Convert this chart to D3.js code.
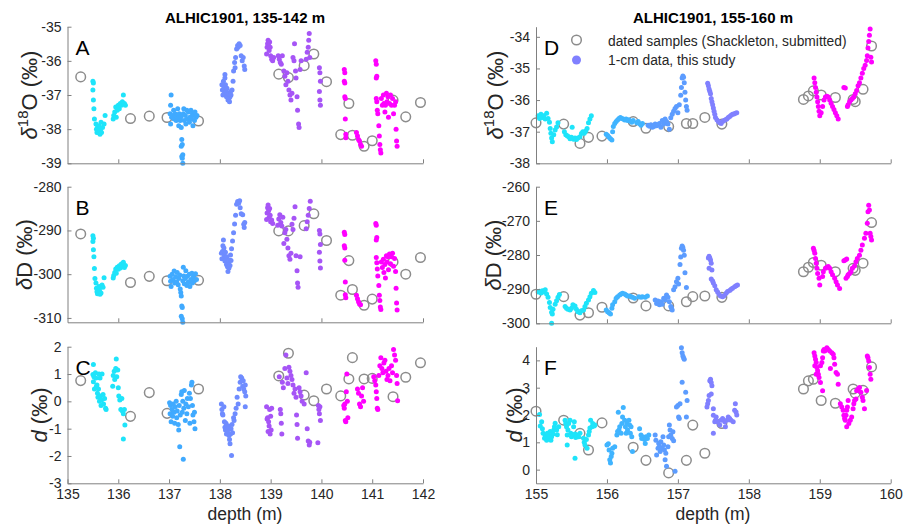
<!DOCTYPE html>
<html><head><meta charset="utf-8">
<script src="https://cdn.jsdelivr.net/npm/d3@7"></script>
<style>
body{margin:0;background:#fff;}
text{font-family:"Liberation Sans",Arial,sans-serif;}
</style></head>
<body><svg id="c" width="905" height="531"></svg>
<script>
// ---------- colours of the 1-cm segments ----------
const segColorsL = ["#1ee4fa", "#40aaff", "#6f8cff", "#a655f6", "#ff00ff"];
const segColorsR = ["#1ee4fa", "#40b4ff", "#5c9cff", "#8080ff", "#ff00ff"];

// ---------- tick values ----------
const xTicksTopL = [136, 138, 140, 142];
const xTicksBotL = [135, 136, 137, 138, 139, 140, 141, 142];
const xTicksR = [155, 156, 157, 158, 159, 160];
const yTicksA = [-39, -38, -37, -36, -35];
const yTicksB = [-310, -300, -290, -280];
const yTicksC = [-3, -2, -1, 0, 1, 2];
const yTicksD = [-38, -37, -36, -35, -34];
const yTicksE = [-300, -290, -280, -270, -260];
const yTicksF = [0, 1, 2, 3, 4];

// ---------- dated samples (Shackleton, submitted) ----------
const datedDepthL = [135.26,136.24,136.61,136.96,137.58,139.16,139.35,139.66,139.85,140.10,140.38,140.54,140.61,140.84,141.00,141.41,141.66,141.95];
const datedO18L = [-36.47,-37.69,-37.62,-37.66,-37.76,-36.39,-36.49,-36.14,-35.80,-36.61,-38.16,-37.25,-38.18,-38.50,-38.34,-37.15,-37.64,-37.22];
const datedDL = [-290.8,-301.9,-300.5,-301.5,-301.4,-290.1,-290.1,-288.9,-286.2,-292.3,-304.8,-296.9,-303.5,-307.1,-305.7,-297.2,-300.0,-296.2];
const datedDxsL = [0.76,-0.55,0.32,-0.44,0.45,0.93,1.76,0.23,0.02,0.45,0.20,0.82,1.60,0.82,0.84,0.17,0.88,1.41];

const datedDepthR = [155.0,155.39,155.62,155.74,155.93,156.37,156.55,156.87,157.12,157.21,157.38,157.62,158.77,158.84,158.91,159.02,159.22,159.47,159.50,159.61,159.73];
const datedO18R = [-36.72,-36.76,-37.37,-37.18,-37.14,-36.68,-36.89,-36.84,-36.74,-36.74,-36.55,-36.76,-35.98,-35.87,-35.71,-35.84,-35.92,-35.98,-36.05,-35.66,-34.29];
const datedDR = [-291.5,-292.2,-297.6,-296.9,-295.3,-292.6,-294.9,-294.9,-293.7,-292.2,-292.0,-292.4,-284.9,-283.6,-282.2,-283.0,-284.9,-283.9,-284.5,-282.4,-270.5];
const datedDxsR = [2.14,1.81,1.33,0.72,1.71,0.82,0.34,-0.12,0.34,1.63,0.60,1.69,2.95,3.25,3.31,2.53,2.43,2.95,2.80,2.90,3.76];

// ---------- 1-cm data, 135-142 m : d18O ----------
const o18L1 = [[135.50,-36.6],[135.51,-36.65],[135.50,-36.85],[135.51,-37.15],[135.52,-37.4],[135.53,-37.7],[135.56,-37.85],[135.57,-38.0],[135.58,-38.1],[135.59,-37.95],[135.60,-38.05],[135.61,-38.1],[135.62,-37.9],[135.63,-38.0],[135.64,-38.15],[135.65,-38.05],[135.66,-37.8],[135.67,-38.1],[135.69,-37.95],[135.72,-37.85],[135.74,-37.6],[135.90,-37.7],[135.91,-37.6],[135.93,-37.5],[135.95,-37.35],[135.96,-37.65],[135.98,-37.45],[136.00,-37.3],[136.02,-37.4],[136.04,-37.25],[136.06,-37.3],[136.08,-37.2],[136.10,-37.0],[136.12,-37.25],[136.14,-37.3]];
const o18L2 = [[137.04,-37.0],[137.03,-37.3],[137.02,-37.55],[137.05,-37.65],[137.03,-37.85],[137.07,-37.6],[137.09,-37.45],[137.10,-37.7],[137.12,-37.55],[137.14,-37.75],[137.15,-37.6],[137.17,-37.4],[137.18,-37.7],[137.19,-37.9],[137.20,-37.55],[137.22,-37.75],[137.23,-37.65],[137.24,-37.95],[137.25,-38.3],[137.26,-38.45],[137.24,-38.5],[137.27,-38.75],[137.25,-38.8],[137.26,-38.85],[137.27,-39.0],[137.28,-37.55],[137.29,-37.4],[137.30,-37.75],[137.32,-37.6],[137.33,-37.85],[137.35,-37.45],[137.36,-37.7],[137.38,-37.5],[137.40,-37.8],[137.41,-37.65],[137.43,-37.45],[137.44,-37.7],[137.46,-37.55],[137.47,-37.9],[137.49,-37.6],[137.50,-37.75],[137.51,-37.5],[137.53,-37.65],[137.55,-37.6]];
const o18L3 = [[138.04,-36.7],[138.05,-36.85],[138.06,-37.0],[138.07,-36.6],[138.08,-36.8],[138.09,-36.95],[138.10,-36.4],[138.10,-36.5],[138.11,-36.7],[138.12,-36.9],[138.13,-37.05],[138.14,-36.8],[138.15,-37.0],[138.16,-37.15],[138.17,-36.95],[138.18,-37.1],[138.19,-37.2],[138.20,-37.05],[138.21,-36.9],[138.22,-37.0],[138.24,-36.85],[138.26,-36.6],[138.27,-36.3],[138.29,-36.05],[138.30,-36.2],[138.31,-35.9],[138.33,-35.65],[138.35,-35.55],[138.36,-35.6],[138.38,-35.5],[138.40,-35.55],[138.42,-35.85],[138.44,-36.0],[138.46,-35.9],[138.48,-36.15],[138.49,-36.25]];
const o18L4 = [[138.92,-35.8],[138.93,-35.6],[138.94,-35.5],[138.95,-35.4],[138.96,-35.55],[138.97,-35.7],[138.98,-35.45],[138.99,-35.6],[139.00,-35.85],[139.02,-35.95],[139.04,-36.0],[139.06,-35.9],[139.15,-35.85],[139.17,-35.95],[139.19,-36.05],[139.21,-36.1],[139.23,-35.85],[139.26,-36.3],[139.28,-36.45],[139.30,-36.7],[139.32,-36.35],[139.34,-36.6],[139.36,-36.85],[139.38,-37.0],[139.40,-37.15],[139.42,-36.95],[139.44,-35.9],[139.46,-36.0],[139.47,-35.5],[139.49,-36.3],[139.50,-36.5],[139.52,-37.05],[139.53,-37.45],[139.55,-37.85],[139.56,-37.95],[139.58,-36.25],[139.60,-36.0],[139.70,-35.95],[139.72,-35.75],[139.74,-35.6],[139.75,-35.4],[139.76,-35.2],[139.77,-35.9],[139.96,-36.2],[139.97,-36.35],[139.98,-36.6],[139.96,-36.9],[139.97,-37.15],[139.98,-37.3]];
const o18L5 = [[140.45,-36.25],[140.46,-36.35],[140.45,-36.6],[140.46,-36.65],[140.46,-37.05],[140.47,-37.1],[140.47,-37.7],[140.48,-38.15],[140.48,-38.25],[140.69,-38.1],[140.71,-38.2],[140.73,-38.3],[140.75,-38.35],[140.77,-38.45],[140.79,-38.5],[141.07,-36.0],[141.08,-36.1],[141.09,-36.45],[141.08,-36.5],[141.08,-37.1],[141.09,-37.2],[141.10,-37.45],[141.11,-37.55],[141.13,-37.9],[141.14,-38.2],[141.15,-38.45],[141.16,-38.6],[141.17,-38.7],[141.18,-37.1],[141.20,-37.3],[141.22,-37.0],[141.23,-37.25],[141.25,-37.5],[141.26,-37.3],[141.28,-36.95],[141.29,-37.2],[141.31,-37.05],[141.32,-37.65],[141.34,-37.25],[141.36,-37.0],[141.38,-37.3],[141.40,-37.1],[141.42,-37.55],[141.44,-37.3],[141.46,-37.2],[141.47,-38.0],[141.48,-38.35],[141.49,-38.5]];

// ---------- 1-cm data, 135-142 m : dD ----------
const dDL1 = [[135.50,-291.2],[135.51,-291.8],[135.50,-292.5],[135.51,-294.4],[135.52,-296.0],[135.53,-298.7],[135.54,-301.0],[135.56,-302.0],[135.57,-303.2],[135.58,-304.0],[135.59,-304.5],[135.60,-303.5],[135.61,-304.2],[135.62,-302.8],[135.63,-303.8],[135.64,-304.6],[135.65,-303.0],[135.66,-304.3],[135.68,-302.5],[135.70,-303.0],[135.72,-300.8],[135.90,-300.9],[135.91,-300.3],[135.93,-299.6],[135.95,-298.8],[135.96,-299.8],[135.98,-298.4],[136.00,-298.9],[136.02,-298.1],[136.04,-298.6],[136.06,-297.7],[136.08,-298.2],[136.10,-297.3],[136.12,-298.5],[136.14,-298.0]];
const dDL2 = [[137.02,-300.5],[137.03,-301.6],[137.04,-302.8],[137.06,-300.0],[137.08,-301.2],[137.10,-299.3],[137.11,-302.0],[137.13,-300.6],[137.15,-301.8],[137.16,-299.6],[137.18,-302.4],[137.19,-301.0],[137.21,-300.2],[137.22,-303.4],[137.23,-304.2],[137.24,-305.0],[137.25,-307.3],[137.26,-307.6],[137.24,-309.6],[137.26,-310.2],[137.27,-311.0],[137.27,-301.5],[137.28,-298.4],[137.29,-300.4],[137.30,-302.2],[137.32,-301.0],[137.33,-299.2],[137.35,-302.6],[137.36,-300.5],[137.38,-301.8],[137.40,-300.0],[137.41,-302.8],[137.43,-301.2],[137.45,-299.8],[137.46,-302.0],[137.48,-300.6],[137.50,-301.5],[137.52,-299.9],[137.54,-301.2]];
const dDL3 = [[138.03,-295.2],[138.04,-296.5],[138.05,-294.8],[138.06,-293.5],[138.07,-292.2],[138.08,-294.0],[138.09,-295.8],[138.10,-297.0],[138.11,-295.0],[138.12,-296.3],[138.13,-297.8],[138.14,-296.0],[138.15,-298.3],[138.16,-299.4],[138.17,-297.5],[138.18,-298.6],[138.19,-296.8],[138.20,-298.0],[138.21,-295.6],[138.22,-296.9],[138.23,-294.2],[138.25,-292.4],[138.27,-290.5],[138.29,-288.5],[138.31,-286.5],[138.33,-284.0],[138.35,-283.4],[138.37,-283.8],[138.39,-283.2],[138.40,-284.8],[138.42,-286.2],[138.45,-286.4],[138.47,-288.6],[138.48,-289.3],[138.49,-288.2]];
const dDL4 = [[138.92,-287.5],[138.93,-286.0],[138.94,-284.8],[138.95,-284.2],[138.96,-285.5],[138.97,-287.0],[138.98,-285.0],[138.99,-286.5],[139.00,-288.0],[139.02,-287.6],[139.04,-288.4],[139.14,-288.8],[139.16,-287.4],[139.18,-286.4],[139.20,-288.2],[139.22,-289.0],[139.24,-287.0],[139.26,-293.0],[139.28,-290.5],[139.30,-289.8],[139.32,-292.0],[139.34,-294.0],[139.36,-295.8],[139.38,-296.6],[139.40,-295.2],[139.42,-288.6],[139.44,-289.8],[139.46,-287.2],[139.48,-284.6],[139.50,-295.8],[139.52,-299.2],[139.53,-302.0],[139.54,-303.0],[139.58,-296.0],[139.70,-289.6],[139.72,-288.0],[139.74,-286.5],[139.76,-285.0],[139.78,-283.3],[139.96,-290.0],[139.97,-290.8],[139.98,-293.2],[139.96,-295.0],[139.97,-297.0],[139.98,-298.6]];
const dDL5 = [[140.45,-290.4],[140.46,-290.9],[140.45,-293.5],[140.46,-294.0],[140.46,-296.8],[140.47,-301.8],[140.47,-304.7],[140.48,-305.4],[140.69,-304.8],[140.71,-305.6],[140.73,-306.3],[140.75,-306.8],[140.77,-307.0],[141.07,-288.4],[141.08,-288.8],[141.09,-291.6],[141.08,-292.2],[141.08,-296.2],[141.09,-297.4],[141.10,-298.8],[141.11,-300.4],[141.13,-302.6],[141.14,-304.8],[141.15,-306.0],[141.16,-307.5],[141.17,-308.1],[141.18,-297.2],[141.20,-298.5],[141.22,-296.6],[141.23,-299.6],[141.25,-297.8],[141.26,-300.9],[141.28,-295.8],[141.29,-297.2],[141.31,-296.0],[141.32,-299.0],[141.34,-295.4],[141.36,-297.6],[141.38,-296.0],[141.40,-295.2],[141.42,-298.2],[141.44,-296.4],[141.46,-299.4],[141.47,-303.2],[141.48,-306.6],[141.49,-308.2]];

// ---------- 1-cm data, 135-142 m : deuterium excess ----------
const dxsL1 = [[135.51,1.35],[135.50,0.98],[135.52,0.9],[135.51,0.72],[135.53,0.45],[135.55,1.05],[135.56,0.85],[135.57,0.55],[135.58,0.6],[135.59,0.3],[135.60,0.15],[135.61,0.45],[135.62,1.0],[135.63,0.0],[135.64,0.85],[135.65,0.2],[135.66,-0.15],[135.67,0.05],[135.68,1.0],[135.70,0.25],[135.71,-0.1],[135.73,0.1],[135.75,-0.25],[135.76,-0.3],[135.89,0.55],[135.90,0.95],[135.92,1.1],[135.93,0.8],[135.95,1.2],[135.96,1.55],[135.97,0.9],[135.99,1.15],[136.00,0.5],[136.01,0.2],[136.03,0.05],[136.05,-0.3],[136.07,0.1],[136.08,-0.35],[136.10,-0.45],[136.12,-0.3],[136.13,-0.87],[136.10,-1.38]];
const dxsL2 = [[137.01,-0.05],[137.03,-0.15],[137.02,-0.45],[137.04,-0.75],[137.06,-0.3],[137.07,-0.55],[137.08,-0.1],[137.10,-0.4],[137.11,-0.8],[137.12,-0.2],[137.14,0.0],[137.15,-0.6],[137.16,-0.35],[137.18,-0.85],[137.19,-1.05],[137.20,-0.15],[137.21,-1.66],[137.22,-0.5],[137.24,0.25],[137.25,0.35],[137.26,-0.4],[137.27,0.0],[137.28,-2.12],[137.29,-0.25],[137.30,0.4],[137.32,-0.7],[137.33,-0.1],[137.35,-0.45],[137.36,0.1],[137.38,-0.2],[137.40,0.3],[137.41,-0.8],[137.42,0.1],[137.44,0.6],[137.45,0.7],[137.46,-0.15],[137.47,-0.5],[137.49,-0.75],[137.51,-1.0],[137.50,-0.4]];
const dxsL3 = [[138.03,-0.1],[138.04,-0.3],[138.05,-0.45],[138.06,-0.5],[138.08,-0.2],[138.09,-0.75],[138.10,-0.95],[138.11,-1.05],[138.12,-0.8],[138.13,-1.2],[138.14,-0.95],[138.15,-1.1],[138.16,-1.0],[138.17,-0.9],[138.18,-1.25],[138.19,-1.4],[138.20,-1.55],[138.21,-1.2],[138.22,-1.0],[138.23,-1.98],[138.24,-0.85],[138.25,-1.15],[138.27,-0.6],[138.28,-0.7],[138.30,-0.45],[138.32,-0.25],[138.34,0.15],[138.36,-0.1],[138.38,0.45],[138.40,0.7],[138.41,0.9],[138.43,0.85],[138.45,0.55],[138.46,0.75],[138.47,0.45],[138.49,0.35],[138.50,0.6],[138.51,0.2],[138.50,-0.2]];
const dxsL4 = [[138.92,-0.2],[138.93,-0.65],[138.94,-0.6],[138.95,-1.1],[138.96,-0.75],[138.97,-0.9],[138.98,-0.3],[138.99,-1.2],[139.00,-0.55],[139.01,-1.05],[139.02,-0.25],[139.17,0.9],[139.19,-0.3],[139.20,-0.45],[139.21,-0.8],[139.22,-1.2],[139.23,0.7],[139.25,0.5],[139.28,1.2],[139.30,1.7],[139.32,0.85],[139.34,0.65],[139.36,1.25],[139.38,1.1],[139.40,0.95],[139.42,0.8],[139.44,0.6],[139.46,0.3],[139.48,0.45],[139.50,0.15],[139.51,-0.5],[139.52,-0.85],[139.53,-1.35],[139.56,0.5],[139.58,0.35],[139.60,0.2],[139.62,0.0],[139.66,-0.1],[139.70,1.05],[139.72,-1.0],[139.74,-1.45],[139.76,-1.6],[139.77,-1.5],[139.94,-0.15],[139.95,-0.3],[139.96,-0.45],[139.97,-0.2],[139.98,-0.7],[139.93,-1.52]];
const dxsL5 = [[140.44,-0.15],[140.45,-0.25],[140.46,-0.1],[140.47,-0.7],[140.48,-0.75],[140.49,0.35],[140.50,1.0],[140.51,0.0],[140.52,-0.6],[140.71,0.45],[140.73,0.3],[140.75,-0.1],[140.77,-0.2],[140.79,0.2],[140.81,0.5],[140.83,0.0],[141.03,0.9],[141.05,0.75],[141.07,0.6],[141.08,0.35],[141.09,0.1],[141.10,-0.25],[141.11,-0.3],[141.13,0.95],[141.15,1.3],[141.17,1.6],[141.19,1.2],[141.21,1.05],[141.23,1.4],[141.25,1.5],[141.27,1.1],[141.29,0.8],[141.31,0.95],[141.33,1.2],[141.35,0.75],[141.38,1.3],[141.40,1.05],[141.42,1.9],[141.44,1.7],[141.46,1.5],[141.48,0.95],[141.49,0.65],[141.50,0.02]];

// ---------- 1-cm data, 155-160 m : d18O ----------
const o18R1 = [[155.03,-36.5],[155.05,-36.58],[155.07,-36.45],[155.09,-36.55],[155.11,-36.5],[155.13,-36.6],[155.15,-36.42],[155.17,-36.58],[155.19,-36.7],[155.20,-36.9],[155.21,-37.05],[155.22,-37.2],[155.23,-37.32],[155.25,-37.1],[155.27,-36.95],[155.29,-36.85],[155.31,-36.72],[155.40,-37.0],[155.42,-37.1],[155.44,-37.13],[155.46,-37.16],[155.48,-37.22],[155.50,-37.18],[155.51,-36.86],[155.53,-37.24],[155.55,-37.2],[155.57,-37.25],[155.59,-37.2],[155.62,-37.16],[155.64,-37.06],[155.66,-37.0],[155.68,-37.05],[155.70,-36.98],[155.72,-36.9],[155.74,-36.72],[155.76,-36.6],[155.78,-36.5]];
const o18R2 = [[155.99,-37.08],[156.01,-37.12],[156.03,-37.18],[156.05,-37.22],[156.07,-37.26],[156.08,-37.0],[156.09,-36.84],[156.11,-36.74],[156.13,-36.68],[156.15,-36.63],[156.17,-36.58],[156.19,-36.55],[156.21,-36.58],[156.23,-36.6],[156.25,-36.63],[156.27,-36.6],[156.29,-36.65],[156.31,-36.62],[156.33,-36.67],[156.35,-36.7],[156.37,-36.65],[156.42,-36.72],[156.44,-36.68],[156.46,-36.75],[156.48,-36.8],[156.50,-36.74]];
const o18R3 = [[156.58,-36.8],[156.60,-36.83],[156.62,-36.78],[156.64,-36.86],[156.66,-36.84],[156.68,-36.76],[156.70,-36.81],[156.72,-36.78],[156.74,-36.74],[156.76,-36.86],[156.78,-36.65],[156.80,-36.76],[156.82,-36.6],[156.84,-36.68],[156.86,-36.76],[156.88,-36.92],[156.90,-36.56],[156.92,-36.45],[156.94,-36.35],[156.96,-36.27],[156.98,-36.2],[157.00,-36.4],[157.02,-36.15],[157.04,-35.85],[157.05,-35.6],[157.06,-35.3],[157.07,-35.24],[157.08,-35.28],[157.09,-35.45],[157.10,-35.75],[157.11,-36.0],[157.12,-36.2],[157.13,-36.32]];
const o18R4 = [[157.42,-35.47],[157.43,-35.55],[157.44,-35.65],[157.45,-35.72],[157.46,-35.8],[157.47,-35.95],[157.48,-36.05],[157.49,-36.15],[157.50,-36.25],[157.51,-36.35],[157.52,-36.45],[157.53,-36.55],[157.55,-36.62],[157.57,-36.68],[157.59,-36.72],[157.61,-36.74],[157.63,-36.68],[157.65,-36.65],[157.67,-36.62],[157.69,-36.6],[157.71,-36.55],[157.73,-36.52],[157.75,-36.48],[157.77,-36.45],[157.79,-36.44],[157.81,-36.42],[157.83,-36.4]];
const o18R5 = [[158.92,-35.3],[158.93,-35.45],[158.94,-35.6],[158.95,-35.75],[158.96,-35.9],[158.97,-36.05],[158.98,-36.2],[158.99,-36.35],[159.00,-36.5],[159.02,-36.4],[159.04,-36.2],[159.06,-36.0],[159.08,-35.9],[159.10,-35.88],[159.12,-35.9],[159.14,-36.0],[159.16,-36.1],[159.18,-36.2],[159.20,-36.3],[159.22,-36.4],[159.24,-36.5],[159.26,-36.6],[159.34,-35.6],[159.36,-35.62],[159.39,-36.2],[159.40,-36.15],[159.42,-36.05],[159.44,-36.0],[159.46,-35.95],[159.48,-35.9],[159.50,-35.8],[159.52,-35.7],[159.54,-35.55],[159.56,-35.45],[159.58,-35.3],[159.60,-35.15],[159.62,-35.0],[159.64,-34.9],[159.66,-34.75],[159.67,-34.6],[159.68,-34.35],[159.69,-34.15],[159.70,-33.95],[159.71,-33.75],[159.72,-34.65],[159.73,-34.8]];

// ---------- 1-cm data, 155-160 m : dD ----------
const dDR1 = [[155.03,-290.8],[155.05,-290.6],[155.07,-291.1],[155.09,-290.5],[155.11,-290.8],[155.13,-290.2],[155.15,-291.4],[155.17,-292.4],[155.19,-293.9],[155.20,-295.4],[155.22,-296.8],[155.23,-297.3],[155.22,-300.0],[155.24,-295.9],[155.27,-294.4],[155.29,-293.4],[155.31,-292.4],[155.33,-291.6],[155.41,-295.1],[155.43,-295.6],[155.45,-295.9],[155.48,-296.1],[155.50,-295.6],[155.52,-294.6],[155.55,-294.9],[155.57,-295.9],[155.59,-296.6],[155.62,-296.9],[155.64,-296.3],[155.67,-296.1],[155.69,-295.1],[155.71,-294.1],[155.74,-293.2],[155.76,-292.2],[155.78,-291.2],[155.81,-290.4],[155.83,-291.0]];
const dDR2 = [[155.99,-296.1],[156.01,-296.6],[156.03,-296.9],[156.05,-297.3],[156.07,-295.6],[156.08,-294.6],[156.11,-293.7],[156.13,-292.7],[156.15,-292.2],[156.18,-291.7],[156.20,-291.4],[156.22,-291.2],[156.25,-291.4],[156.27,-291.7],[156.29,-292.0],[156.32,-292.0],[156.34,-292.2],[156.36,-292.4],[156.39,-292.7],[156.45,-292.2],[156.48,-292.4],[156.50,-292.2],[156.54,-292.4],[156.57,-292.0]];
const dDR3 = [[156.68,-293.2],[156.70,-294.2],[156.72,-293.5],[156.74,-294.6],[156.76,-293.7],[156.78,-294.4],[156.80,-292.7],[156.82,-293.2],[156.84,-291.7],[156.86,-292.4],[156.88,-293.7],[156.90,-295.1],[156.91,-295.5],[156.92,-296.1],[156.94,-290.2],[156.96,-289.3],[156.98,-287.8],[157.00,-286.8],[157.01,-288.5],[157.03,-282.8],[157.04,-280.6],[157.05,-278.0],[157.06,-277.4],[157.07,-277.8],[157.08,-278.6],[157.09,-280.1],[157.10,-285.2],[157.12,-289.5]];
const dDR4 = [[157.43,-280.9],[157.44,-280.4],[157.45,-280.9],[157.46,-281.5],[157.47,-282.4],[157.44,-283.9],[157.48,-284.4],[157.47,-287.0],[157.49,-287.6],[157.50,-288.2],[157.52,-289.0],[157.54,-290.2],[157.56,-290.8],[157.58,-291.5],[157.60,-292.0],[157.63,-292.2],[157.65,-291.9],[157.68,-291.2],[157.70,-290.7],[157.73,-290.4],[157.75,-290.0],[157.77,-289.7],[157.80,-289.3],[157.82,-289.0],[157.84,-288.8]];
const dDR5 = [[158.91,-278.0],[158.92,-278.7],[158.93,-279.5],[158.94,-281.0],[158.95,-282.4],[158.96,-283.9],[158.97,-285.4],[158.99,-286.8],[159.00,-288.8],[159.04,-286.3],[159.05,-284.9],[159.08,-283.9],[159.10,-283.6],[159.12,-283.4],[159.14,-283.9],[159.16,-284.9],[159.18,-285.8],[159.21,-286.8],[159.23,-287.8],[159.25,-288.8],[159.28,-289.8],[159.34,-281.7],[159.36,-281.5],[159.38,-281.2],[159.37,-286.8],[159.39,-286.3],[159.40,-285.8],[159.42,-285.4],[159.44,-284.9],[159.46,-283.9],[159.49,-283.2],[159.51,-282.0],[159.53,-281.0],[159.56,-280.1],[159.58,-278.6],[159.60,-277.1],[159.63,-275.1],[159.65,-273.6],[159.67,-270.7],[159.68,-267.3],[159.69,-265.4],[159.70,-266.8],[159.71,-273.6],[159.72,-274.6],[159.73,-275.6]];

// ---------- 1-cm data, 155-160 m : deuterium excess ----------
const dxsR1 = [[155.05,2.02],[155.06,1.6],[155.08,1.75],[155.09,1.5],[155.10,1.33],[155.12,1.15],[155.13,1.25],[155.14,1.18],[155.15,1.08],[155.16,1.33],[155.18,1.15],[155.19,1.23],[155.20,1.4],[155.21,1.08],[155.22,1.2],[155.24,1.3],[155.25,1.45],[155.26,1.57],[155.27,1.7],[155.29,1.45],[155.30,1.28],[155.32,1.57],[155.41,1.81],[155.42,1.69],[155.43,1.57],[155.44,1.27],[155.45,1.45],[155.46,1.69],[155.48,1.81],[155.49,1.33],[155.50,1.2],[155.52,1.27],[155.53,1.57],[155.54,1.75],[155.55,1.3],[155.56,1.18],[155.44,0.9],[155.55,0.42],[155.58,1.27],[155.60,1.2],[155.62,1.33],[155.67,1.15],[155.68,1.0],[155.69,0.9],[155.71,1.1],[155.72,0.78],[155.74,1.27],[155.75,1.4],[155.76,1.52],[155.77,1.81],[155.79,1.57],[155.80,1.69],[155.82,1.6],[155.83,1.63]];
const dxsR2 = [[156.00,0.9],[156.02,0.95],[156.03,0.72],[156.04,0.36],[156.05,0.24],[156.06,0.48],[156.07,0.6],[156.08,0.78],[156.11,0.84],[156.14,1.27],[156.15,1.4],[156.16,2.1],[156.17,1.45],[156.18,1.57],[156.20,1.33],[156.21,1.69],[156.22,1.93],[156.23,2.27],[156.25,1.81],[156.26,1.57],[156.27,1.33],[156.28,1.69],[156.29,1.45],[156.31,1.81],[156.32,1.63],[156.33,1.33],[156.34,1.57],[156.35,1.2],[156.36,0.66],[156.46,1.5],[156.48,1.27],[156.49,1.14],[156.50,1.2],[156.53,1.1],[156.54,0.96],[156.55,1.2],[156.57,1.14],[156.59,1.27]];
const dxsR3 = [[156.68,1.27],[156.69,1.08],[156.70,0.54],[156.72,0.78],[156.73,0.96],[156.74,0.84],[156.75,0.66],[156.76,1.02],[156.78,0.78],[156.79,1.2],[156.80,0.9],[156.81,0.72],[156.82,0.36],[156.83,0.6],[156.84,0.12],[156.86,0.84],[156.87,1.2],[156.88,1.63],[156.89,1.45],[156.90,1.27],[156.92,1.14],[156.93,1.39],[156.94,1.06],[156.96,-0.06],[156.98,2.29],[157.00,2.35],[157.01,1.93],[157.02,1.87],[157.03,2.41],[157.05,4.46],[157.06,4.28],[157.07,4.16],[157.08,4.1],[157.09,4.04],[157.06,3.2],[157.11,2.83],[157.12,1.93],[157.13,2.53]];
const dxsR4 = [[157.41,2.29],[157.42,2.41],[157.43,2.53],[157.44,2.71],[157.45,3.25],[157.46,3.31],[157.47,3.19],[157.48,3.07],[157.47,2.77],[157.50,2.23],[157.50,1.99],[157.52,1.75],[157.50,1.33],[157.53,1.81],[157.54,1.93],[157.56,1.75],[157.59,1.63],[157.61,1.81],[157.63,1.87],[157.66,1.75],[157.67,1.57],[157.69,1.81],[157.71,1.93],[157.73,1.87],[157.75,1.81],[157.78,1.75],[157.80,2.17],[157.81,2.41],[157.82,2.11],[157.83,2.0]];
const dxsR5 = [[158.92,4.28],[158.93,4.16],[158.94,4.04],[158.95,3.92],[158.93,3.8],[158.96,3.74],[158.97,3.62],[158.95,3.49],[158.98,3.49],[158.99,3.37],[159.01,3.8],[159.03,3.92],[159.04,4.1],[159.05,4.34],[159.06,4.4],[159.07,4.34],[159.10,4.46],[159.12,4.4],[159.14,4.34],[159.17,4.28],[159.19,4.22],[159.20,4.1],[159.21,3.86],[159.23,3.56],[159.25,3.49],[159.26,3.13],[159.01,3.19],[159.04,2.89],[159.15,3.7],[159.29,2.41],[159.31,2.29],[159.33,2.17],[159.34,1.99],[159.35,1.87],[159.36,1.81],[159.37,1.99],[159.38,2.17],[159.39,2.29],[159.40,2.53],[159.38,1.57],[159.41,1.69],[159.43,1.81],[159.45,1.93],[159.47,2.23],[159.48,2.41],[159.49,2.53],[159.51,2.59],[159.52,2.89],[159.54,2.95],[159.56,3.01],[159.58,2.83],[159.60,2.65],[159.61,2.53],[159.63,2.23],[159.66,2.9],[159.67,4.16],[159.68,4.1],[159.69,3.98],[159.70,3.74],[159.71,3.49],[159.72,3.31]];

// ================== drawing ==================
const svg = d3.select("#c");
const axisGray = "#808080", textCol = "#262626", circGray = "#8c8c8c";

const xL = d3.scaleLinear([135, 142], [67.5, 423]);
const xR = d3.scaleLinear([155, 160], [536, 890.7]);

function panel(x, y, xTicks, showXLabels, yTicks, segs, colors, dDepth, dVal, letter, ylabel, labelOffset) {
  const g = svg.append("g");
  // dated samples first (underneath)
  g.append("g").selectAll("circle").data(dDepth.map((d, i) => [d, dVal[i]])).join("circle")
    .attr("cx", d => x(d[0])).attr("cy", d => y(d[1])).attr("r", 4.8)
    .attr("fill", "none").attr("stroke", circGray).attr("stroke-width", 1.5);
  segs.forEach((s, i) => {
    g.append("g").selectAll("circle").data(s).join("circle")
      .attr("cx", d => x(d[0])).attr("cy", d => y(d[1])).attr("r", 2.5)
      .attr("fill", colors[i]);
  });
  // axes
  const xa = d3.axisBottom(x).tickValues(xTicks).tickSize(-4).tickSizeOuter(0).tickPadding(6)
    .tickFormat(showXLabels ? d3.format("d") : () => "");
  const ya = d3.axisLeft(y).tickValues(yTicks).tickSize(-4).tickSizeOuter(0).tickPadding(6)
    .tickFormat(d3.format("d"));
  const gx = g.append("g").attr("transform", `translate(0,${y.range()[0]})`).call(xa);
  const gy = g.append("g").attr("transform", `translate(${x.range()[0]},0)`).call(ya);
  [gx, gy].forEach(a => {
    a.select(".domain").attr("stroke", axisGray).attr("stroke-width", 1);
    a.selectAll(".tick line").attr("stroke", axisGray);
    a.selectAll("text").attr("fill", textCol).attr("font-size", 14)
      .attr("font-family", '"Liberation Sans", Arial, sans-serif');
    a.selectAll("text").text(function(){ return this.textContent.replace("−", "-"); });
  });
  // panel letter
  g.append("text").attr("x", x.range()[0] + 8).attr("y", y.range()[1] + 28)
    .attr("font-size", 21).attr("fill", "#000").text(letter);
  // y label (baseline placed labelOffset px left of the axis)
  const cy = (y.range()[0] + y.range()[1]) / 2;
  const t = g.append("text").attr("transform", `translate(${x.range()[0] - labelOffset},${cy}) rotate(-90)`)
    .attr("text-anchor", "middle").attr("font-size", 22).attr("fill", textCol);
  ylabel(t);
}

function lblO18(t) {
  t.append("tspan").attr("font-style", "italic").text("δ");
  t.append("tspan").attr("font-size", 15).attr("dy", -9).text("18");
  t.append("tspan").attr("dy", 9).text("O (‰)");
}
function lblD(t) {
  t.append("tspan").attr("font-style", "italic").text("δ");
  t.append("tspan").text("D (‰)");
}
function lblDxs(t) {
  t.append("tspan").attr("font-style", "italic").text("d");
  t.append("tspan").text(" (‰)");
}

const yA = d3.scaleLinear([-39, -35], [163.3, 26.7]);
const yB = d3.scaleLinear([-311, -280], [322.3, 186.7]);
const yC = d3.scaleLinear([-3, 2], [483.3, 346.7]);
const yD = d3.scaleLinear([-38, -33.68], [163.3, 26.7]);
const yE = d3.scaleLinear([-300, -260], [323.3, 186.7]);
const yF = d3.scaleLinear([-0.5, 4.5], [483.3, 346.7]);

panel(xL, yA, xTicksTopL, false, yTicksA, [o18L1, o18L2, o18L3, o18L4, o18L5], segColorsL, datedDepthL, datedO18L, "A", lblO18, 31);
panel(xL, yB, xTicksTopL, false, yTicksB, [dDL1, dDL2, dDL3, dDL4, dDL5], segColorsL, datedDepthL, datedDL, "B", lblD, 36);
panel(xL, yC, xTicksBotL, true, yTicksC, [dxsL1, dxsL2, dxsL3, dxsL4, dxsL5], segColorsL, datedDepthL, datedDxsL, "C", lblDxs, 21);
panel(xR, yD, xTicksR.slice(1), false, yTicksD, [o18R1, o18R2, o18R3, o18R4, o18R5], segColorsR, datedDepthR, datedO18R, "D", lblO18, 33);
panel(xR, yE, xTicksR.slice(1), false, yTicksE, [dDR1, dDR2, dDR3, dDR4, dDR5], segColorsR, datedDepthR, datedDR, "E", lblD, 35);
panel(xR, yF, xTicksR, true, yTicksF, [dxsR1, dxsR2, dxsR3, dxsR4, dxsR5], segColorsR, datedDepthR, datedDxsR, "F", lblDxs, 14);

// titles
svg.append("text").attr("x", 245).attr("y", 23).attr("text-anchor", "middle")
  .attr("font-weight", "bold").attr("font-size", 15).attr("fill", "#000").text("ALHIC1901, 135-142 m");
svg.append("text").attr("x", 713).attr("y", 23).attr("text-anchor", "middle")
  .attr("font-weight", "bold").attr("font-size", 15).attr("fill", "#000").text("ALHIC1901, 155-160 m");
// x labels
[245, 713].forEach(cx => svg.append("text").attr("x", cx).attr("y", 520).attr("text-anchor", "middle")
  .attr("font-size", 17.5).attr("fill", textCol).text("depth (m)"));

// legend
const lg = svg.append("g");
lg.append("circle").attr("cx", 576.5).attr("cy", 40).attr("r", 4.8).attr("fill", "none")
  .attr("stroke", circGray).attr("stroke-width", 1.5);
lg.append("circle").attr("cx", 576.5).attr("cy", 60).attr("r", 4.5).attr("fill", "#8080ff");
lg.append("text").attr("x", 608).attr("y", 46).attr("font-size", 13.8).attr("fill", textCol)
  .text("dated samples (Shackleton, submitted)");
lg.append("text").attr("x", 608).attr("y", 65).attr("font-size", 13.8).attr("fill", textCol)
  .text("1-cm data, this study");
</script></body></html>
